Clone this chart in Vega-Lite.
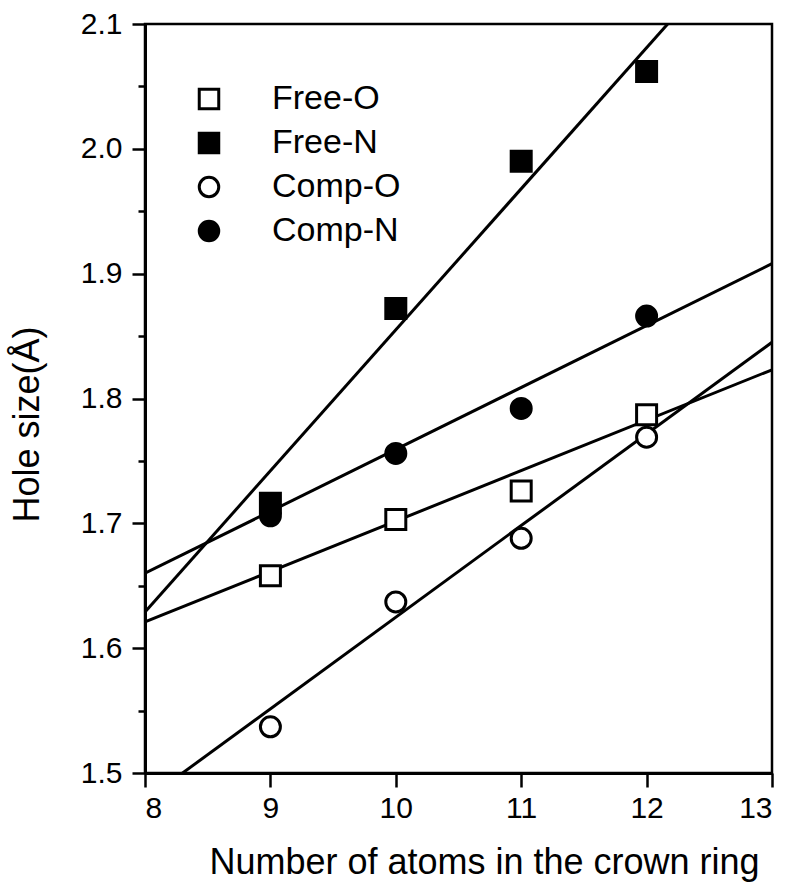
{
  "$schema": "https://vega.github.io/schema/vega-lite/v6.json",
  "width": 627,
  "height": 749,
  "autosize": "none",
  "padding": {"left": 145, "top": 24, "right": 22, "bottom": 109},
  "background": "white",
  "config": {
    "view": {"stroke": "black", "strokeWidth": 2.5},
    "font": "Liberation Sans",
    "axis": {"grid": false, "domainColor": "black", "domainWidth": 3, "tickColor": "black", "tickWidth": 2.5, "labelColor": "black", "titleColor": "black", "labelFont": "Liberation Sans", "titleFont": "Liberation Sans", "titleFontWeight": "normal", "labelFontSize": 30, "titleFontSize": 36}
  },
  "datasets": {
    "pts": [
      {"series": "Free-O", "n": 9, "size": 1.658},
      {"series": "Free-O", "n": 10, "size": 1.703},
      {"series": "Free-O", "n": 11, "size": 1.726},
      {"series": "Free-O", "n": 12, "size": 1.787},
      {"series": "Free-N", "n": 9, "size": 1.716},
      {"series": "Free-N", "n": 10, "size": 1.872},
      {"series": "Free-N", "n": 11, "size": 1.99},
      {"series": "Free-N", "n": 12, "size": 2.062},
      {"series": "Comp-O", "n": 9, "size": 1.537},
      {"series": "Comp-O", "n": 10, "size": 1.637},
      {"series": "Comp-O", "n": 11, "size": 1.688},
      {"series": "Comp-O", "n": 12, "size": 1.769},
      {"series": "Comp-N", "n": 9, "size": 1.706},
      {"series": "Comp-N", "n": 10, "size": 1.756},
      {"series": "Comp-N", "n": 11, "size": 1.792},
      {"series": "Comp-N", "n": 12, "size": 1.866}
    ],
    "fits": [
      {"fit": "Free-N", "n": 8, "size": 1.629},
      {"fit": "Free-N", "n": 13, "size": 2.194},
      {"fit": "Comp-N", "n": 8, "size": 1.66},
      {"fit": "Comp-N", "n": 13, "size": 1.908},
      {"fit": "Free-O", "n": 8, "size": 1.621},
      {"fit": "Free-O", "n": 13, "size": 1.823},
      {"fit": "Comp-O", "n": 8, "size": 1.478},
      {"fit": "Comp-O", "n": 13, "size": 1.845}
    ]
  },
  "resolve": {"axis": {"y": "independent"}},
  "layer": [
    {
      "data": {"name": "fits"},
      "mark": {"type": "line", "color": "black", "strokeWidth": 3, "clip": true},
      "encoding": {
        "x": {"field": "n", "type": "quantitative", "scale": {"domain": [8, 13], "nice": false},
          "axis": {"values": [8, 9, 10, 11, 12, 13], "format": "d", "tickSize": 14, "labelPadding": 6, "title": "Number of atoms in the crown ring", "titleX": 339, "titleY": 100, "titleBaseline": "alphabetic", "titleAnchor": null, "titleAlign": "center"}},
        "y": {"field": "size", "type": "quantitative", "scale": {"domain": [1.5, 2.1], "nice": false, "zero": false},
          "axis": {"orient": "left", "values": [1.5, 1.6, 1.7, 1.8, 1.9, 2.0, 2.1], "format": ".1f", "tickSize": 13, "labelPadding": 10, "title": "Hole size(Å)", "titleX": -118, "titleY": 400, "titleAngle": -90, "titleBaseline": "middle", "titleAlign": "center"}},
        "detail": {"field": "fit", "type": "nominal"}
      }
    },
    {
      "data": {"name": "pts"},
      "mark": {"type": "point", "stroke": "black", "strokeWidth": 3, "opacity": 1, "size": 400, "clip": true},
      "encoding": {
        "x": {"field": "n", "type": "quantitative"},
        "y": {"field": "size", "type": "quantitative",
          "axis": {"orient": "left", "values": [1.55, 1.65, 1.75, 1.85, 1.95, 2.05], "tickSize": 7, "labels": false, "domain": false, "title": null}},
        "shape": {"field": "series", "type": "nominal", "scale": {"domain": ["Free-O", "Free-N", "Comp-O", "Comp-N"], "range": ["square", "square", "circle", "circle"]},
          "legend": {"title": null, "orient": "none", "legendX": 47, "legendY": 58, "padding": 0, "symbolSize": 380, "symbolStrokeWidth": 3, "symbolStrokeColor": "black", "labelFontSize": 34, "labelFont": "Liberation Sans", "labelColor": "black", "labelOffset": 46, "rowPadding": 10, "symbolOpacity": 1,
            "encode": {"symbols": {"update": {"stroke": {"value": "black"}, "strokeWidth": {"value": 3}}}}}},
        "fill": {"field": "series", "type": "nominal", "scale": {"domain": ["Free-O", "Free-N", "Comp-O", "Comp-N"], "range": ["white", "black", "white", "black"]},
          "legend": {"title": null, "orient": "none", "legendX": 47, "legendY": 58, "padding": 0, "symbolSize": 380, "symbolStrokeWidth": 3, "symbolStrokeColor": "black", "labelFontSize": 34, "labelFont": "Liberation Sans", "labelColor": "black", "labelOffset": 46, "rowPadding": 10, "symbolOpacity": 1,
            "encode": {"symbols": {"update": {"stroke": {"value": "black"}, "strokeWidth": {"value": 3}}}}}}
      }
    }
  ]
}
